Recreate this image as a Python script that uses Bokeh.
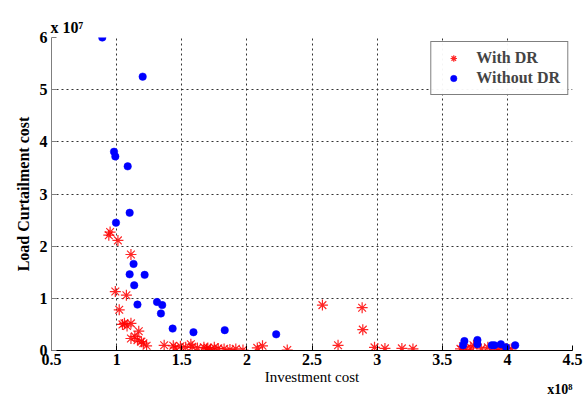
from bokeh.plotting import figure
from bokeh.models import Range1d, FixedTicker, Legend, LegendItem, Title
from bokeh.embed import file_html
from bokeh.resources import INLINE

# Investment cost in units of 1e8, load curtailment cost in units of 1e7
with_dr_x = [0.95, 0.94, 1.01, 1.11, 0.99, 1.075, 1.02, 1.045, 1.06, 1.08, 1.11,
             1.17, 1.14, 1.11, 1.16, 1.19, 1.205, 1.23, 1.365, 1.435, 1.45, 1.49,
             1.53, 1.57, 1.58, 1.62, 1.67, 1.69, 1.70, 1.72, 1.75, 1.78, 1.825,
             1.87, 1.915, 1.97, 2.08, 2.12, 2.31, 2.58, 2.70, 2.885, 2.89, 2.98,
             3.06, 3.19, 3.275, 3.64, 3.66, 3.68, 3.72, 3.74, 3.80, 3.85, 3.90,
             3.93, 3.96, 3.99, 4.03]
with_dr_y = [2.27, 2.21, 2.11, 1.84, 1.13, 1.06, 0.78, 0.50, 0.52, 0.47, 0.52,
             0.37, 0.27, 0.23, 0.20, 0.17, 0.14, 0.09, 0.10, 0.09, 0.05, 0.08,
             0.06, 0.12, 0.07, 0.05, 0.06, 0.03, 0.05, 0.02, 0.06, 0.04, 0.03,
             0.02, 0.03, 0.01, 0.05, 0.09, 0.01, 0.87, 0.10, 0.82, 0.40, 0.06,
             0.04, 0.04, 0.03, 0.03, 0.08, 0.02, 0.05, 0.10, 0.03, 0.06, 0.02,
             0.05, 0.01, 0.04, 0.03]

without_dr_x = [0.89, 1.20, 0.98, 0.99, 1.085, 1.10, 0.995, 1.13, 1.10, 1.215,
                1.135, 1.16, 1.31, 1.35, 1.34, 1.43, 1.59, 1.83, 2.225, 3.67,
                3.66, 3.77, 3.77, 3.88, 3.90, 3.95, 3.99, 4.06]
without_dr_y = [6.00, 5.25, 3.81, 3.72, 3.53, 2.64, 2.45, 1.66, 1.46, 1.45,
                1.25, 0.88, 0.93, 0.87, 0.71, 0.42, 0.35, 0.39, 0.31, 0.18,
                0.10, 0.20, 0.12, 0.10, 0.10, 0.12, 0.06, 0.10]

x_ticks = [0.5, 1, 1.5, 2, 2.5, 3, 3.5, 4, 4.5]
x_tick_labels = ["0.5", "1", "1.5", "2", "2.5", "3", "3.5", "4", "4.5"]
y_ticks = [0, 1, 2, 3, 4, 5, 6]
y_tick_labels = ["0", "1", "2", "3", "4", "5", "6"]

SERIF = "Liberation Serif"

p = figure(width=584, height=397, output_backend="svg", toolbar_location=None,
           x_range=Range1d(0.5, 4.5), y_range=Range1d(0, 6),
           min_border_left=51, min_border_right=12, min_border_top=37,
           min_border_bottom=47)
p.outline_line_color = None
p.background_fill_color = "white"
p.border_fill_color = "white"

r_with = p.scatter(with_dr_x, with_dr_y, marker="asterisk", size=11,
                   line_color="#ff0000", line_width=1.2, line_alpha=0.85)
r_without = p.scatter(without_dr_x, without_dr_y, marker="circle", size=7.5,
                      fill_color="#0000ff", line_color="#0000ff", line_width=0.5)

for ax, ticks, labels in ((p.xaxis[0], x_ticks, x_tick_labels),
                          (p.yaxis[0], y_ticks, y_tick_labels)):
    ax.ticker = FixedTicker(ticks=ticks)
    ax.major_label_overrides = {t: l for t, l in zip(ticks, labels)}
    ax.minor_tick_line_color = None
    ax.major_tick_in = 5
    ax.major_tick_out = 0
    ax.major_label_text_font = SERIF
    ax.major_label_text_font_style = "bold"
    ax.major_label_text_font_size = "16px"
    ax.major_label_text_color = "black"
    ax.axis_label_text_font = SERIF
    ax.axis_label_text_color = "black"

p.xaxis.axis_label = "Investment cost"
p.xaxis.axis_label_text_font_style = "normal"
p.xaxis.axis_label_text_font_size = "15px"
p.xaxis.axis_line_color = "black"
p.xaxis.major_tick_line_color = "black"
p.xaxis.major_label_standoff = 3
p.xaxis.axis_label_standoff = 1

p.yaxis.axis_label = "Load Curtailment cost"
p.yaxis.axis_label_text_font_style = "bold"
p.yaxis.axis_label_text_font_size = "16px"
p.yaxis.axis_line_color = "#7f7f7f"
p.yaxis.major_tick_line_color = "#7f7f7f"
p.yaxis.major_label_standoff = 4
p.yaxis.axis_label_standoff = 5

for g in (p.xgrid[0], p.ygrid[0]):
    g.grid_line_color = "#333333"
    g.grid_line_dash = "2 3"
    g.grid_line_width = 1

legend = Legend(items=[LegendItem(label="With DR", renderers=[r_with]),
                       LegendItem(label="Without DR", renderers=[r_without])],
                location="top_right")
legend.label_text_font = SERIF
legend.label_text_font_style = "bold"
legend.label_text_font_size = "16px"
legend.border_line_color = "black"
legend.border_line_width = 1
legend.margin = 4
legend.padding = 7
legend.spacing = 2
legend.glyph_width = 30
legend.label_standoff = 8
legend.label_height = 16
legend.glyph_height = 16
p.add_layout(legend, "center")

p.add_layout(Title(text="x 10\u2077", align="left", offset=-1, standoff=3,
                   text_font=SERIF, text_font_style="bold",
                   text_font_size="16px", text_color="black"), "above")
p.add_layout(Title(text="x10\u2078", align="right", standoff=-16,
                   text_font=SERIF, text_font_style="bold",
                   text_font_size="14px", text_color="black"), "below")

open("out.html", "w").write(file_html(p, INLINE))
